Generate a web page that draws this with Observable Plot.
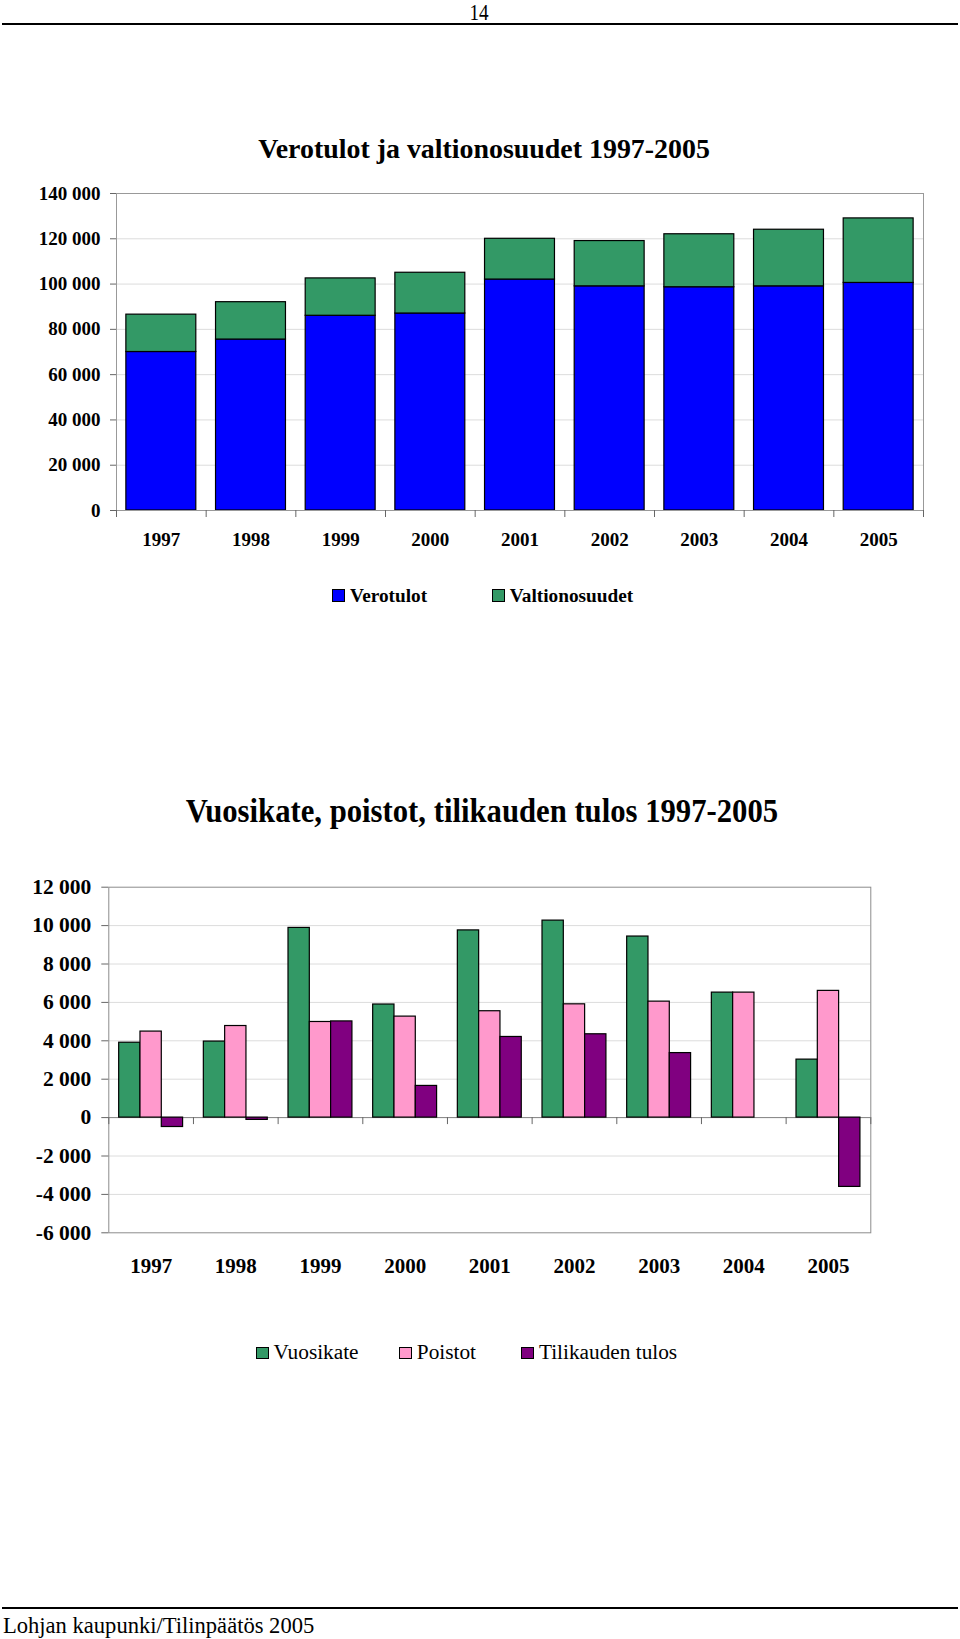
<!DOCTYPE html>
<html><head><meta charset="utf-8">
<script src="https://cdn.jsdelivr.net/npm/d3@7"></script>
<script src="https://cdn.jsdelivr.net/npm/@observablehq/plot@0.6"></script>
<style>
body{margin:0;background:#fff;}
#page{position:relative;width:960px;height:1639px;overflow:hidden;font-family:"Liberation Serif","Times New Roman",serif;color:#000;background:#fff;}
.abs{position:absolute;white-space:nowrap;line-height:1;}
.sw{position:absolute;box-sizing:border-box;border:1px solid #000;}
.hr{position:absolute;left:2px;width:956px;height:2px;background:#000;}
</style></head><body>
<div id="page">
  <div class="abs" style="left:479px;top:0px;font-size:24px;transform:translateX(-50%) scaleX(0.8);">14</div>
  <div class="hr" style="top:23px"></div>
  <div class="abs" id="title1" style="left:484px;top:134.5px;font-size:27.9px;font-weight:bold;transform:translateX(-50%);"></div>
  <div id="chart1" style="position:absolute;left:0;top:170px;"></div>
  <div id="legend1"></div>
  <div class="abs" id="title2" style="left:481.5px;top:795px;font-size:33px;font-weight:bold;transform:translateX(-50%) scaleX(0.93);"></div>
  <div id="chart2" style="position:absolute;left:0;top:860px;"></div>
  <div id="legend2"></div>
  <div class="hr" style="top:1607px"></div>
  <div class="abs" id="footer" style="left:3px;top:1613px;font-size:24px;transform-origin:left center;transform:scaleX(0.94);"></div>
</div>
<script>
// ---------- data ----------
const title1 = "Verotulot ja valtionosuudet 1997-2005";
const title2 = "Vuosikate, poistot, tilikauden tulos 1997-2005";
const footer = "Lohjan kaupunki/Tilinpäätös 2005";

const years = ["1997","1998","1999","2000","2001","2002","2003","2004","2005"];

const series1 = ["Verotulot", "Valtionosuudet"];
const colors1 = ["#0000ff", "#339966"];
const verotulot = [70000, 75500, 86000, 87000, 102000, 99000, 98600, 99000, 100500];
const valtionosuudet = [16500, 16500, 16500, 18000, 18000, 20000, 23400, 25000, 28500];
const yTicks1 = [0, 20000, 40000, 60000, 80000, 100000, 120000, 140000];

const series2 = ["Vuosikate", "Poistot", "Tilikauden tulos"];
const colors2 = ["#339966", "#ff99cc", "#800080"];
const vuosikate = [3900, 3960, 9880, 5890, 9750, 10260, 9430, 6510, 3020];
const poistot = [4480, 4770, 4980, 5260, 5540, 5900, 6040, 6510, 6600];
const tulos = [-490, -120, 5010, 1650, 4200, 4340, 3360, 0, -3610];
const yTicks2 = [-6000, -4000, -2000, 0, 2000, 4000, 6000, 8000, 10000, 12000];

// ---------- helpers ----------
const serif = '"Liberation Serif","Times New Roman",serif';
const fmt = d => (d < 0 ? "-" : "") + d3.format(",")(Math.abs(d)).replace(/,/g, " ");
document.getElementById("title1").textContent = title1;
document.getElementById("title2").textContent = title2;
document.getElementById("footer").textContent = footer;

const W = 960;

// ---------- chart 1 ----------
const vals1 = [verotulot, valtionosuudet];
const table1 = series1.flatMap((s, k) => years.map((y, i) => ({year: y, series: s, value: vals1[k][i]})));
const c1 = {height: 390, ml: 116, mr: 37, mt: 23, mb: 50};
const step1 = (W - c1.ml - c1.mr) / years.length;
const tick1 = 7 * (yTicks1[yTicks1.length - 1] - yTicks1[0]) / (c1.height - c1.mt - c1.mb);

const plot1 = Plot.plot({
  width: W, height: c1.height,
  marginLeft: c1.ml, marginRight: c1.mr, marginTop: c1.mt, marginBottom: c1.mb,
  style: {fontFamily: serif, fontSize: "19px", fontWeight: "bold", color: "#000", background: "transparent", overflow: "visible"},
  x: {type: "band", domain: years, paddingInner: 0.22, paddingOuter: 0.11, round: false, label: null},
  y: {domain: [yTicks1[0], yTicks1[yTicks1.length - 1]], label: null},
  color: {domain: series1, range: colors1},
  marks: [
    Plot.ruleY(yTicks1.slice(1, -1), {stroke: "#dcdcdc"}),
    Plot.barY(table1, {x: "year", y: "value", fill: "series", stroke: "#000", strokeWidth: 1.2}),
    Plot.frame({stroke: "#999"}),
    Plot.ruleX(years, {x: d => d, y1: 0, y2: -tick1, dx: -step1 / 2, stroke: "#666"}),
    Plot.ruleX(years.slice(-1), {x: d => d, y1: 0, y2: -tick1, dx: step1 / 2, stroke: "#666"}),
    Plot.axisY({ticks: yTicks1, tickFormat: fmt, tickSize: 6, tickPadding: 10, stroke: "#666", fontSize: 19, fontWeight: "bold", label: null}),
    Plot.axisX({tickSize: 0, tickPadding: 21.5, fontSize: 19, fontWeight: "bold", label: null})
  ]
});
document.getElementById("chart1").appendChild(plot1);

// ---------- chart 2 ----------
const vals2 = [vuosikate, poistot, tulos];
const table2 = series2.flatMap((s, k) => years.map((y, i) => ({year: y, series: s, value: vals2[k][i]})));
const c2 = {height: 430, ml: 108.3, mr: 89.7, mt: 26.7, mb: 57.7};
const pIn = 0.245;
const step2 = (W - c2.ml - c2.mr) / years.length;
const sub = step2 * (1 - pIn) / series2.length;
const tick2 = 7 * (yTicks2[yTicks2.length - 1] - yTicks2[0]) / (c2.height - c2.mt - c2.mb);

const plot2 = Plot.plot({
  width: W, height: c2.height,
  marginLeft: c2.ml, marginRight: c2.mr, marginTop: c2.mt, marginBottom: c2.mb,
  style: {fontFamily: serif, fontSize: "21.5px", fontWeight: "bold", color: "#000", background: "transparent", overflow: "visible"},
  x: {type: "band", domain: years, paddingInner: pIn, paddingOuter: pIn / 2, round: false, label: null},
  y: {domain: [yTicks2[0], yTicks2[yTicks2.length - 1]], label: null},
  color: {domain: series2, range: colors2},
  marks: [
    Plot.ruleY(yTicks2.slice(1, -1).filter(v => v !== 0), {stroke: "#dcdcdc"}),
    Plot.ruleY([0], {stroke: "#808080"}),
    ...series2.map((s, k) => Plot.barY(table2.filter(d => d.series === s), {
      x: "year", y: "value", fill: "series", stroke: "#000", strokeWidth: 1.2,
      insetLeft: k * sub, insetRight: (series2.length - 1 - k) * sub
    })),
    Plot.frame({stroke: "#8c8c8c"}),
    Plot.ruleX(years, {x: d => d, y1: 0, y2: -tick2, dx: -step2 / 2, stroke: "#666"}),
    Plot.ruleX(years.slice(-1), {x: d => d, y1: 0, y2: -tick2, dx: step2 / 2, stroke: "#666"}),
    Plot.axisY({ticks: yTicks2, tickFormat: fmt, tickSize: 7, tickPadding: 10.5, stroke: "#666", fontSize: 21.5, fontWeight: "bold", label: null}),
    Plot.axisX({tickSize: 0, tickPadding: 25, fontSize: 21, fontWeight: "bold", label: null})
  ]
});
document.getElementById("chart2").appendChild(plot2);

// ---------- legends ----------
function legend(id, names, colors, xs, swTop, swW, swH, textGap, textTop, fontSize, weight) {
  const host = document.getElementById(id);
  names.forEach((n, i) => {
    const sw = document.createElement("div");
    sw.className = "sw";
    sw.style.cssText = `left:${xs[i]}px;top:${swTop}px;width:${swW}px;height:${swH}px;background:${colors[i]};`;
    host.appendChild(sw);
    const t = document.createElement("div");
    t.className = "abs";
    t.textContent = n;
    t.style.cssText = `left:${xs[i] + textGap}px;top:${textTop}px;font-size:${fontSize}px;font-weight:${weight};`;
    host.appendChild(t);
  });
}
legend("legend1", series1, colors1, [332.3, 492], 589.4, 13, 13, 17.7, 586.4, 19.3, "bold");
legend("legend2", series2, colors2, [256, 399.3, 521.4], 1347.2, 12.5, 12, 17.5, 1341.8, 21.3, "normal");
</script>
</body></html>
